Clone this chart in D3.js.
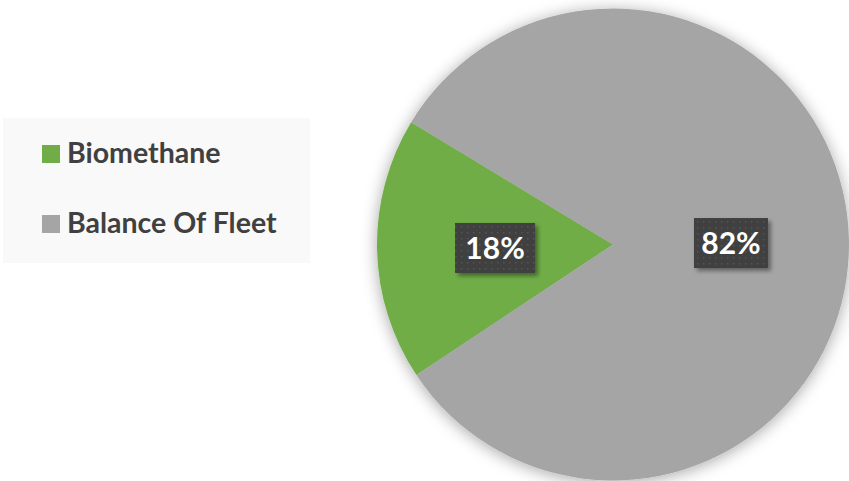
<!DOCTYPE html>
<html>
<head>
<meta charset="utf-8">
<script src="https://cdn.jsdelivr.net/npm/d3@7"></script>
<style>
  html, body { margin: 0; padding: 0; background: #fff; }
  svg { display: block; }
</style>
</head>
<body>
<div id="chart"></div>
<script>
const categories = ['Biomethane', 'Balance Of Fleet'];
const shares = [18, 82];
const labels = ['18%', '82%'];

const width = 849, height = 481;
const cx = 613, cy = 244.5, radius = 236;

const svg = d3.select('#chart')
    .append('svg')
    .attr('width', width)
    .attr('height', height);

const defs = svg.append('defs');

// soft shadow round the pie
const shadow = defs.append('filter').attr('id', 'pieShadow')
    .attr('x', '-20%').attr('y', '-20%').attr('width', '140%').attr('height', '140%');
shadow.append('feDropShadow')
    .attr('dx', 0).attr('dy', 2)
    .attr('stdDeviation', 8)
    .attr('flood-color', '#000').attr('flood-opacity', 0.35);

const labelShadow = defs.append('filter').attr('id', 'labelShadow')
    .attr('x', '-30%').attr('y', '-30%').attr('width', '160%').attr('height', '160%');
labelShadow.append('feDropShadow')
    .attr('dx', 3).attr('dy', 3)
    .attr('stdDeviation', 2)
    .attr('flood-color', '#000').attr('flood-opacity', 0.4);

// dotted fill of the label boxes
const pat = defs.append('pattern').attr('id', 'dots')
    .attr('width', 6).attr('height', 6).attr('patternUnits', 'userSpaceOnUse');
pat.append('rect').attr('width', 6).attr('height', 6).attr('fill', '#404040');
pat.append('rect').attr('x', 2).attr('y', 2).attr('width', 1.5).attr('height', 1.5).attr('fill', '#555');

const color = d3.scaleOrdinal().domain(categories).range(['#70ad47', '#a5a5a5']);

// legend
const legend = svg.append('g');
legend.append('rect')
    .attr('x', 3).attr('y', 118)
    .attr('width', 307).attr('height', 145)
    .attr('fill', '#f9f9f9');

const legendY = d3.scalePoint().domain(categories).range([163, 233]);
const items = legend.selectAll('g.item')
    .data(categories)
    .enter()
    .append('g')
    .attr('class', 'item')
    .attr('transform', (d) => 'translate(0,' + legendY(d) + ')');
items.append('rect')
    .attr('x', 42).attr('y', -18)
    .attr('width', 18).attr('height', 18)
    .attr('fill', (d) => color(d));
items.append('text')
    .attr('x', 67).attr('y', 0)
    .attr('font-family', 'Lato, "Open Sans", sans-serif')
    .attr('font-weight', 'bold')
    .attr('font-size', 28.5)
    .attr('fill', '#404040')
    .text((d) => d);

// pie
const start = 236.4 * Math.PI / 180;
const pie = d3.pie().sort(null).startAngle(start).endAngle(start + 2 * Math.PI);
const arcs = pie(shares);
const arc = d3.arc().innerRadius(0).outerRadius(radius);

const g = svg.append('g').attr('transform', 'translate(' + cx + ',' + cy + ')');
g.append('g')
    .attr('filter', 'url(#pieShadow)')
    .selectAll('path')
    .data(arcs)
    .enter()
    .append('path')
    .attr('d', arc)
    .attr('fill', (d, i) => color(categories[i]));

// data labels
const boxW = [80, 74], boxH = 50;
const lab = g.selectAll('g.lab')
    .data(arcs)
    .enter()
    .append('g')
    .attr('class', 'lab')
    .attr('transform', (d) => {
        const c = arc.centroid(d);
        return 'translate(' + c[0] + ',' + (c[1] + 1) + ')';
    });
lab.append('rect')
    .attr('x', (d, i) => -boxW[i] / 2)
    .attr('y', -boxH / 2)
    .attr('width', (d, i) => boxW[i])
    .attr('height', boxH)
    .attr('fill', 'url(#dots)')
    .attr('filter', 'url(#labelShadow)');
lab.append('text')
    .attr('text-anchor', 'middle')
    .attr('y', 11)
    .attr('font-family', 'Lato, "Open Sans", sans-serif')
    .attr('font-weight', 'bold')
    .attr('font-size', 30)
    .attr('fill', '#fff')
    .text((d, i) => labels[i]);
</script>
</body>
</html>
